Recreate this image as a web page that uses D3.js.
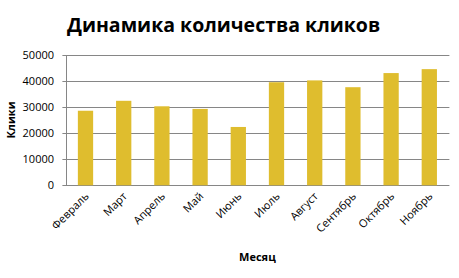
<!DOCTYPE html>
<html>
<head>
<meta charset="utf-8">
<script src="https://cdn.jsdelivr.net/npm/d3@7"></script>
<style>
  body { margin: 0; background: #fff; }
  text { font-family: "Open Sans", "DejaVu Sans", sans-serif; }
</style>
</head>
<body>
<svg width="459" height="278"></svg>
<script>
// data
var months = ["Февраль", "Март", "Апрель", "Май", "Июнь", "Июль", "Август", "Сентябрь", "Октябрь", "Ноябрь"];
var clicks = [28500, 32300, 30200, 29200, 22300, 39400, 40100, 37500, 42900, 44400];
var yTicks = [0, 10000, 20000, 30000, 40000, 50000];

var svg = d3.select("svg");

var plotLeft = 66.4, plotRight = 448.4, plotTop = 54.5, plotBottom = 185.3;

var x = d3.scaleBand()
    .domain(months)
    .range([plotLeft, plotRight])
    .paddingInner(0.6)
    .paddingOuter(0.3);

var y = d3.scaleLinear()
    .domain([0, 50000])
    .range([plotBottom, plotTop]);

//gridlines
svg.append("g")
    .selectAll("line")
    .data(yTicks)
    .enter().append("line")
      .attr("x1", plotLeft - 4)
      .attr("x2", plotRight + 1)
      .attr("y1", function (d) { return Math.round(y(d)) + 0.5; })
      .attr("y2", function (d) { return Math.round(y(d)) + 0.5; })
      .style("stroke", "#868686")
      .style("stroke-width", 1);

//left axis line
svg.append("line")
    .attr("x1", Math.round(plotLeft) + 0.5)
    .attr("x2", Math.round(plotLeft) + 0.5)
    .attr("y1", Math.round(y(50000)))
    .attr("y2", Math.round(y(0)) + 1)
    .style("stroke", "#868686");

//tick labels on y
svg.append("g")
    .selectAll("text")
    .data(yTicks)
    .enter().append("text")
      .attr("x", 54)
      .attr("y", function (d) { return y(d) + 4; })
      .attr("text-anchor", "end")
      .style("font-size", "11px")
      .style("fill", "#000")
      .text(function (d) { return d; });

//bars
svg.append("g")
    .selectAll("rect")
    .data(clicks)
    .enter().append("rect")
      .attr("x", function (d, i) { return x(months[i]); })
      .attr("width", x.bandwidth())
      .attr("y", function (d) { return y(d); })
      .attr("height", function (d) { return y(0) - y(d); })
      .attr("fill", "#DFBD2E");

//month labels, rotated
svg.append("g")
    .selectAll("text")
    .data(months)
    .enter().append("text")
      .attr("transform", function (d) {
          var cx = x(d) + x.bandwidth() / 2 + 4;
          return "translate(" + cx + "," + 197 + ") rotate(-45)";
      })
      .attr("text-anchor", "end")
      .style("font-size", "11px")
      .text(function (d) { return d; });

//titles
svg.append("text")
    .attr("x", 67)
    .attr("y", 32)
    .style("font-size", "19.5px")
    .style("font-weight", "bold")
    .text("Динамика количества кликов");

svg.append("text")
    .attr("transform", "translate(15," + 120 + ") rotate(-90)")
    .attr("text-anchor", "middle")
    .style("font-size", "11px")
    .style("font-weight", "bold")
    .text("Клики");

svg.append("text")
    .attr("x", (plotLeft + plotRight) / 2)
    .attr("y", 261)
    .attr("text-anchor", "middle")
    .style("font-size", "11px")
    .style("font-weight", "bold")
    .text("Месяц");
</script>
</body>
</html>
